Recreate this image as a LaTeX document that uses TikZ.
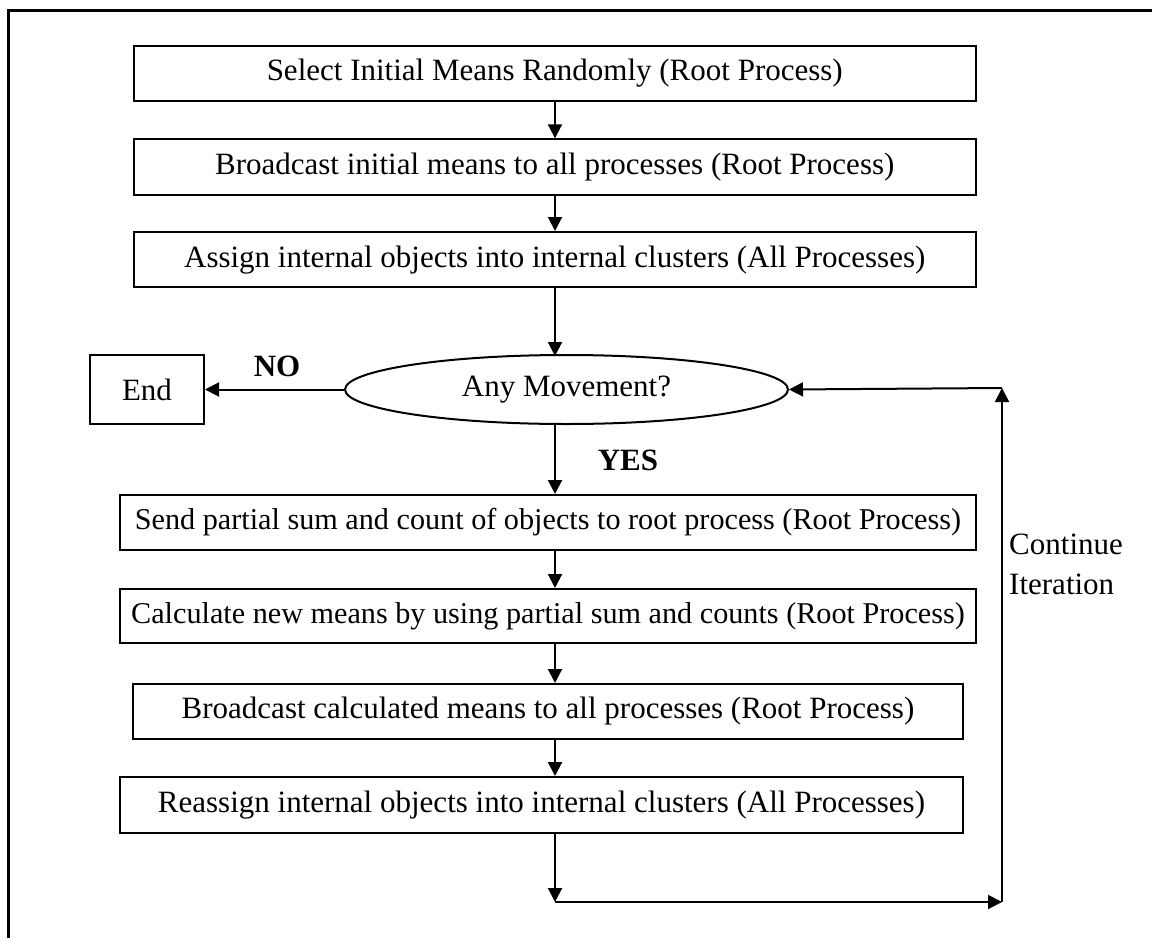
\documentclass[tikz,border=0pt]{standalone}
\usepackage{fontspec}
\setmainfont{Liberation Serif}
\usetikzlibrary{arrows.meta,shapes.geometric}
\begin{document}
\begin{tikzpicture}[x=1pt,y=-1pt,
  font=\fontsize{31}{36}\selectfont,
  stepbox/.style={draw,line width=2pt,inner sep=0pt,anchor=center},
  widebox/.style={stepbox,font=\fontsize{30.2}{36}\selectfont},
  flow/.style={line width=2pt,-{Triangle[length=14pt,width=14pt]}},
  lbl/.style={font=\fontsize{31}{36}\selectfont\bfseries,inner sep=0pt}]
\useasboundingbox (0,0) rectangle (1152,938);
% outer frame (top and left edges)
\draw[line width=3pt] (8,938) -- (8,10) -- (1152,10);

% main column of steps
\node[stepbox,minimum width=842.5pt,minimum height=55.6pt] (b1) at (554.75,73.5) {Select Initial Means Randomly (Root Process)};
\node[stepbox,minimum width=842.5pt,minimum height=55.7pt] (b2) at (554.75,167.15) {Broadcast initial means to all processes (Root Process)};
\node[stepbox,minimum width=842.5pt,minimum height=55.3pt] (b3) at (554.75,259.65) {Assign internal objects into internal clusters (All Processes)};
\node[draw,ellipse,line width=2pt,minimum width=443pt,minimum height=69pt,inner sep=0pt] (dec) at (566.5,389.5) {Any Movement?};
\node[stepbox,minimum width=114pt,minimum height=69pt] (end) at (147,389.5) {End};
\node[widebox,minimum width=856pt,minimum height=55pt] (b4) at (548,522.5) {Send partial sum and count of objects to root process (Root Process)};
\node[widebox,minimum width=856pt,minimum height=54.3pt] (b5) at (548,616.15) {Calculate new means by using partial sum and counts (Root Process)};
\node[stepbox,minimum width=830pt,minimum height=55pt] (b6) at (548,711.5) {Broadcast calculated means to all processes (Root Process)};
\node[stepbox,minimum width=843pt,minimum height=56pt] (b7) at (541.5,805) {Reassign internal objects into internal clusters (All Processes)};

% labels
\node[lbl] (no) at (277,366) {NO};
\node[lbl] (yes) at (628,460) {YES};
\node[inner sep=0pt,anchor=west,align=left,font=\fontsize{31}{40}\selectfont] (cont) at (1009,564) {Continue\\Iteration};

% connector helpers
\coordinate (ax) at (555,0);
\coordinate (c1) at (555,902);
\coordinate (c2) at (1002,902);
\coordinate (c3) at (1002,388);

% connectors
\draw[flow] (b1.south -| ax) -- (b2.north -| ax);
\draw[flow] (b2.south -| ax) -- (b3.north -| ax);
\draw[flow] (b3.south -| ax) -- (ax |- 356,356);
\draw[flow] (dec.west) -- (end.east);
\draw[flow] (ax |- 423,423) -- (b4.north -| ax);
\draw[flow] (b4.south -| ax) -- (b5.north -| ax);
\draw[flow] (b5.south -| ax) -- (b6.north -| ax);
\draw[flow] (b6.south -| ax) -- (b7.north -| ax);
\draw[flow] (b7.south -| ax) -- (c1);
\draw[flow] (c1) -- (c2);
\draw[flow] (c2) -- (c3);
\draw[flow] (c3) -- (dec.east);
\end{tikzpicture}
\end{document}
